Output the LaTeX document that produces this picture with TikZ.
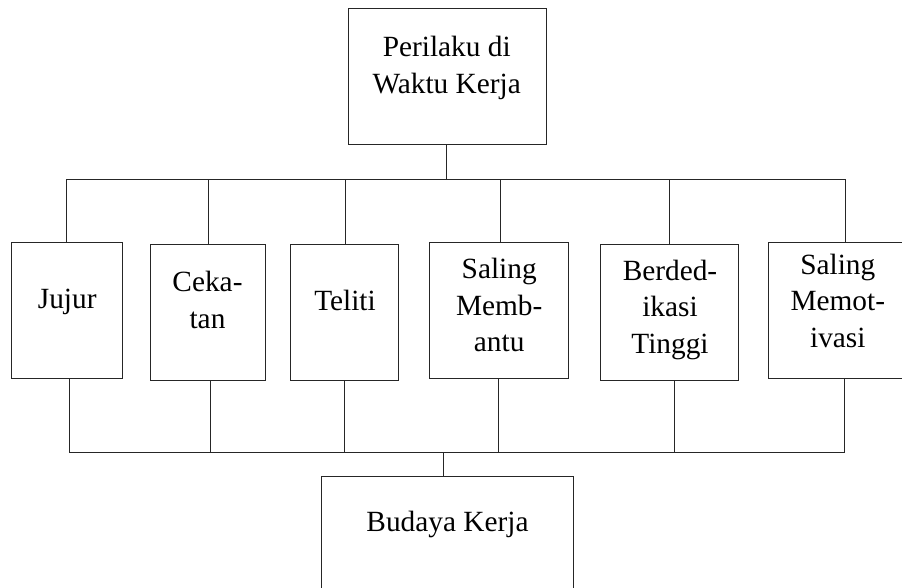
\documentclass[tikz,border=0pt]{standalone}
\usepackage{fontspec}
\setmainfont{Liberation Serif}
\begin{document}
\begin{tikzpicture}[x=0.75pt,y=-0.75pt,
  box/.style={draw=black!85, line width=0.75pt, inner sep=0pt, outer sep=0pt, fill=none},
  lbl/.style={anchor=base, inner sep=0pt, font=\fontsize{22}{26}\selectfont},
  conn/.style={draw=black!85, line width=0.75pt}]
\useasboundingbox (0,0) rectangle (902,587);
\clip (0,0) rectangle (902,587);
\fill[white] (0,0) rectangle (902,587);
% boxes
\node[box, minimum width=148.3pt, minimum height=101.8pt] (top) at (447.2,76.2) {};
\node[box, minimum width=83.25pt, minimum height=102.2pt] (jujur) at (67.2,310.2) {};
\node[box, minimum width=86.25pt, minimum height=102pt] (ceka) at (207.5,312.7) {};
\node[box, minimum width=81.2pt, minimum height=102pt] (teliti) at (344.85,312.7) {};
\node[box, minimum width=104.5pt, minimum height=102pt] (membantu) at (499,310.3) {};
\node[box, minimum width=103pt, minimum height=101.5pt] (berd) at (669.35,312.35) {};
\node[box, minimum width=103.7pt, minimum height=102pt] (motiv) at (837.8,310.3) {};
\node[box, minimum width=189pt, minimum height=95.25pt] (budaya) at (447.7,540) {};
% labels
\node[lbl] (t1) at (446.7,56.7) {Perilaku di};
\node[lbl] (t2) at (446.7,93.3) {Waktu Kerja};
\node[lbl] (j1) at (67.2,308.3) {Jujur};
\node[lbl] (c1) at (207.5,291.7) {Ceka-};
\node[lbl] (c2) at (207.5,328.3) {tan};
\node[lbl] (te1) at (345,310) {Teliti};
\node[lbl] (m1) at (499.2,278.3) {Saling};
\node[lbl] (m2) at (499.2,315) {Memb-};
\node[lbl] (m3) at (499.2,351.7) {antu};
\node[lbl] (b1) at (670,280) {Berded-};
\node[lbl] (b2) at (670,316.7) {ikasi};
\node[lbl] (b3) at (670,353.3) {Tinggi};
\node[lbl] (s1) at (837.8,274) {Saling};
\node[lbl] (s2) at (837.8,310.7) {Memot-};
\node[lbl] (s3) at (837.8,347.3) {ivasi};
\node[lbl] (bk) at (447.5,531.7) {Budaya Kerja};
% top bus coordinates
\coordinate (tb0) at (446.7,179.3);
\coordinate (tb1) at (66,179.3);
\coordinate (tb2) at (208.3,179.3);
\coordinate (tb3) at (345.7,179.3);
\coordinate (tb4) at (500,179.3);
\coordinate (tb5) at (669.3,179.3);
\coordinate (tb6) at (845.7,179.3);
% bottom bus coordinates
\coordinate (bb0) at (443.7,452.7);
\coordinate (bb1) at (69.3,452.7);
\coordinate (bb2) at (210,452.7);
\coordinate (bb3) at (344,452.7);
\coordinate (bb4) at (498.7,452.7);
\coordinate (bb5) at (674,452.7);
\coordinate (bb6) at (844,452.7);
% connectors top
\draw[conn] (top.south -| tb0) -- (tb0);
\draw[conn] (tb1) -- (tb6);
\draw[conn] (tb1) -- (tb1 |- jujur.north);
\draw[conn] (tb2) -- (tb2 |- ceka.north);
\draw[conn] (tb3) -- (tb3 |- teliti.north);
\draw[conn] (tb4) -- (tb4 |- membantu.north);
\draw[conn] (tb5) -- (tb5 |- berd.north);
\draw[conn] (tb6) -- (tb6 |- motiv.north);
% connectors bottom
\draw[conn] (bb1 |- jujur.south) -- (bb1);
\draw[conn] (bb2 |- ceka.south) -- (bb2);
\draw[conn] (bb3 |- teliti.south) -- (bb3);
\draw[conn] (bb4 |- membantu.south) -- (bb4);
\draw[conn] (bb5 |- berd.south) -- (bb5);
\draw[conn] (bb6 |- motiv.south) -- (bb6);
\draw[conn] (bb1) -- (bb6);
\draw[conn] (bb0) -- (bb0 |- budaya.north);
\end{tikzpicture}
\end{document}
